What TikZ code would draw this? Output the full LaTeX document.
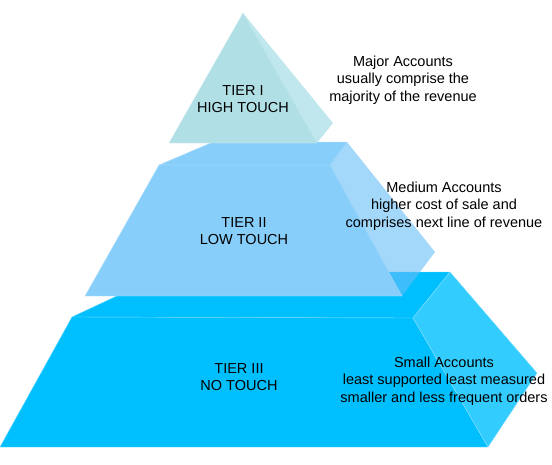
\documentclass[tikz,border=0pt]{standalone}
\usepackage{fontspec}
\setmainfont{Liberation Sans}
\definecolor{TierOneFront}{RGB}{176,224,230}
\definecolor{TierOneSide}{RGB}{150,215,225}
\definecolor{TierTwoFront}{RGB}{135,206,250}
\definecolor{TierTwoSide}{RGB}{102,190,247}
\definecolor{TierThreeFront}{RGB}{0,191,255}
\definecolor{TierThreeSide}{RGB}{51,204,255}

\begin{document}
\begin{tikzpicture}[x=1pt,y=-1pt,
  face/.style={fill=#1,draw=white!40!#1,line width=0.4pt,line join=round},
  side/.style={fill=#1,fill opacity=0.6,draw=none},
  tier/.style={align=center,font=\fontsize{14.5}{17.5}\selectfont,inner sep=0pt},
  note/.style={align=center,font=\fontsize{14.5}{17.5}\selectfont,inner sep=0pt}]
\useasboundingbox (0,0) rectangle (552,464);
% tier III
\draw[face=TierThreeFront] (72,317) -- (168,272) -- (450,272) -- (413,318) -- cycle;
\draw[face=TierThreeFront] (72,317) -- (413,318) -- (488,447) -- (0,447) -- cycle;
\draw[face=TierThreeSide] (413,318) -- (450,272) -- (537,373) -- (488,447) -- cycle;
% tier II
\draw[face=TierTwoFront] (159,165) -- (213,142) -- (347,142) -- (330,165) -- cycle;
\draw[face=TierTwoFront] (159,165) -- (330,165) -- (402,296) -- (85,296) -- cycle;
\fill[side=TierTwoSide] (330,165) -- (347,142) -- (435,252) -- (402,296) -- cycle;
% tier I
\draw[face=TierOneFront] (243,13) -- (317,143) -- (169,143) -- cycle;
\fill[side=TierOneSide] (243,13) -- (333,123) -- (317,143) -- cycle;
% labels
\node[tier] (t1) at (243,99) {TIER I\\HIGH TOUCH};
\node[tier] (t2) at (244,231) {TIER II\\LOW TOUCH};
\node[tier] (t3) at (239,377) {TIER III\\NO TOUCH};
\node[note] (n1) at (403,80) {Major Accounts\\usually comprise the\\majority of the revenue};
\node[note] (n2) at (444,206) {Medium Accounts\\higher cost of sale and\\comprises next line of revenue};
\node[note] (n3) at (444,381) {Small Accounts\\least supported least measured\\smaller and less frequent orders};
\end{tikzpicture}
\end{document}
